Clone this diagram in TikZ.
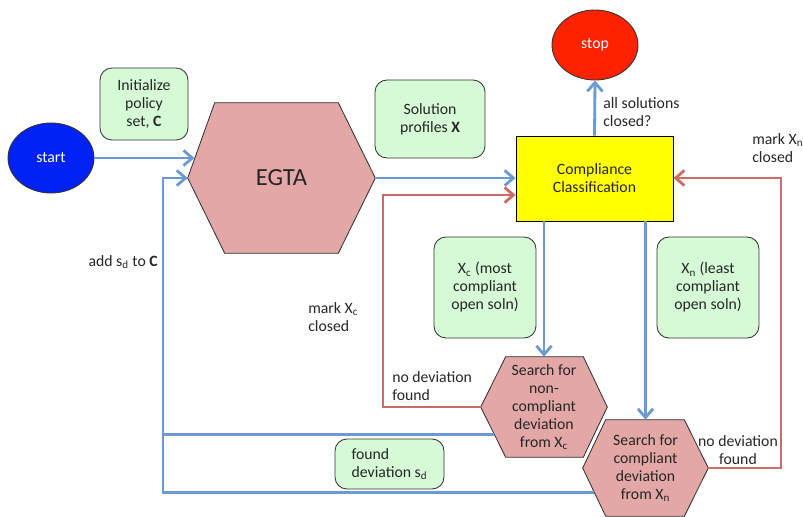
\documentclass[tikz,border=0pt]{standalone}
\usepackage{fontspec}
\setmainfont{Carlito}
\usepackage{tikz}
\usetikzlibrary{calc,arrows.meta,shapes.geometric,backgrounds}
\definecolor{flow}{HTML}{6B9AD2}
\definecolor{back}{HTML}{CF6B67}
\definecolor{notegreen}{HTML}{D6FAD6}
\definecolor{hexfill}{HTML}{E3A8A6}
\definecolor{edge}{HTML}{333333}
\definecolor{startblue}{HTML}{0022F5}
\definecolor{stopred}{HTML}{FF2200}
\definecolor{classy}{HTML}{FFFF00}
\tikzset{
  txt/.style={font=\fontsize{11.2}{12.8}\selectfont, text=black!85},
  lbl/.style={txt, align=left, inner sep=0pt},
  notebox/.style={txt, draw=edge, fill=notegreen, rounded corners=0.3cm, line width=0.6pt, align=center},
  term/.style={ellipse, draw=edge, line width=0.6pt, minimum width=2.15cm, minimum height=1.75cm, text=white, font=\fontsize{11.2}{12.8}\selectfont},
  hexnode/.style={txt, align=center, inner sep=0pt},
  hexline/.style={draw=edge, fill=hexfill, line width=0.6pt},
  fline/.style={draw=flow, line width=2pt},
  farrow/.style={fline, -{Straight Barb[length=2.2mm,width=3.8mm]}},
  rarrow/.style={draw=back, line width=2pt, -{Straight Barb[length=2.2mm,width=3.8mm]}}
}

\begin{document}
\begin{tikzpicture}[x=0.025cm, y=-0.025cm]
  \useasboundingbox (0,0) rectangle (803,516);

  % nodes
  \node[term, fill=startblue] (start) at (51,158) {start};
  \node[term, fill=stopred] (stop) at (595,45) {stop};
  \node[notebox, minimum width=2.2cm, minimum height=1.8cm] (init) at (144,104) {Initialize\\policy\\set, \textbf{C}};
  \node[notebox, minimum width=2.75cm, minimum height=1.95cm] (profiles) at (430,119) {Solution\\profiles \textbf{X}};
  \node[txt, draw=black, fill=classy, line width=0.6pt, align=center, minimum width=3.925cm, minimum height=2.125cm] (classify) at (594.5,178.5) {Compliance\\Classification};
  \node[notebox, minimum width=2.55cm, minimum height=2.525cm] (xc) at (485,287.5) {X\textsubscript{c} (most\\compliant\\open soln)};
  \node[notebox, minimum width=2.55cm, minimum height=2.525cm] (xn) at (708,287.5) {X\textsubscript{n} (least\\compliant\\open soln)};
  \node[notebox, align=left, minimum width=2.725cm, minimum height=1.25cm] (found) at (389.5,464) {found\\deviation s\textsubscript{d}};

  \node[hexnode, font=\fontsize{17.5}{20}\selectfont, minimum width=4.675cm, minimum height=3.75cm] (egta) at (281.5,178) {EGTA};
  \node[hexnode, minimum width=3.15cm, minimum height=2.5cm] (snc) at (544,407) {Search for\\non-\\compliant\\deviation\\from X\textsubscript{c}};
  \node[hexnode, minimum width=3.125cm, minimum height=2.4cm] (sc) at (645.5,468) {Search for\\compliant\\deviation\\from X\textsubscript{n}};

  \begin{scope}[on background layer]
    \coordinate (egta-nw) at ($(egta.north west)+(27,0)$);
    \coordinate (egta-ne) at ($(egta.north east)+(-37,0)$);
    \coordinate (egta-se) at ($(egta.south east)+(-37,0)$);
    \coordinate (egta-sw) at ($(egta.south west)+(37,0)$);
    \path[hexline] (egta.west) -- (egta-nw) -- (egta-ne) -- (egta.east) -- (egta-se) -- (egta-sw) -- cycle;
    \coordinate (snc-nw) at ($(snc.north west)+(25,0)$);
    \coordinate (snc-ne) at ($(snc.north east)+(-24,0)$);
    \coordinate (snc-se) at ($(snc.south east)+(-24,0)$);
    \coordinate (snc-sw) at ($(snc.south west)+(25,0)$);
    \path[hexline] (snc.west) -- (snc-nw) -- (snc-ne) -- (snc.east) -- (snc-se) -- (snc-sw) -- cycle;
    \coordinate (sc-nw) at ($(sc.north west)+(23,0)$);
    \coordinate (sc-ne) at ($(sc.north east)+(-24,0)$);
    \coordinate (sc-se) at ($(sc.south east)+(-24,0)$);
    \coordinate (sc-sw) at ($(sc.south west)+(23,0)$);
    \path[hexline] (sc.west) -- (sc-nw) -- (sc-ne) -- (sc.east) -- (sc-se) -- (sc-sw) -- cycle;
  \end{scope}

  % labels
  \node[lbl, anchor=east] (addsd) at (158,262) {add s\textsubscript{d} to \textbf{C}};
  \node[lbl, anchor=west] (markc) at (308,317) {mark X\textsubscript{c}\\closed};
  \node[lbl, anchor=west] (nodevl) at (392,386) {no deviation\\found};
  \node[lbl, anchor=west] (allclosed) at (603,112) {all solutions\\closed?};
  \node[lbl, anchor=west] (markn) at (752,148) {mark X\textsubscript{n}\\closed};
  \node[lbl, align=center] (nodevr) at (738,450) {no deviation\\found};

  % connectors
  \coordinate (egta-in) at ($(egta.west)!0.25!(egta-nw)$);
  \coordinate (snc-out) at ($(snc.west)!0.54!(snc-sw)$);
  \coordinate (sc-out) at ($(sc.west)!0.5!(sc-sw)$);
  \coordinate (loopc) at (163,178);
  \coordinate (redl) at (383,195);
  \coordinate (redr) at (781,178);

  \draw[farrow] (start.east) -- (start.east -| egta-in);
  \draw[farrow] (egta.east) -- (egta.east -| classify.west);
  \draw[farrow] (classify.north) -- (stop.south);
  \draw[farrow] (classify.south -| snc.north) -- (snc.north);
  \draw[farrow] (classify.south -| sc.north) -- (sc.north);
  \draw[farrow] (snc-out) -| (loopc) -- (egta.west);
  \draw[fline] (sc-out) -| (snc-out -| loopc);
  \draw[rarrow] (snc.west) -| (redl) -- (redl -| classify.west);
  \draw[rarrow] (sc.east) -| (redr) -- (redr -| classify.east);
\end{tikzpicture}
\end{document}
